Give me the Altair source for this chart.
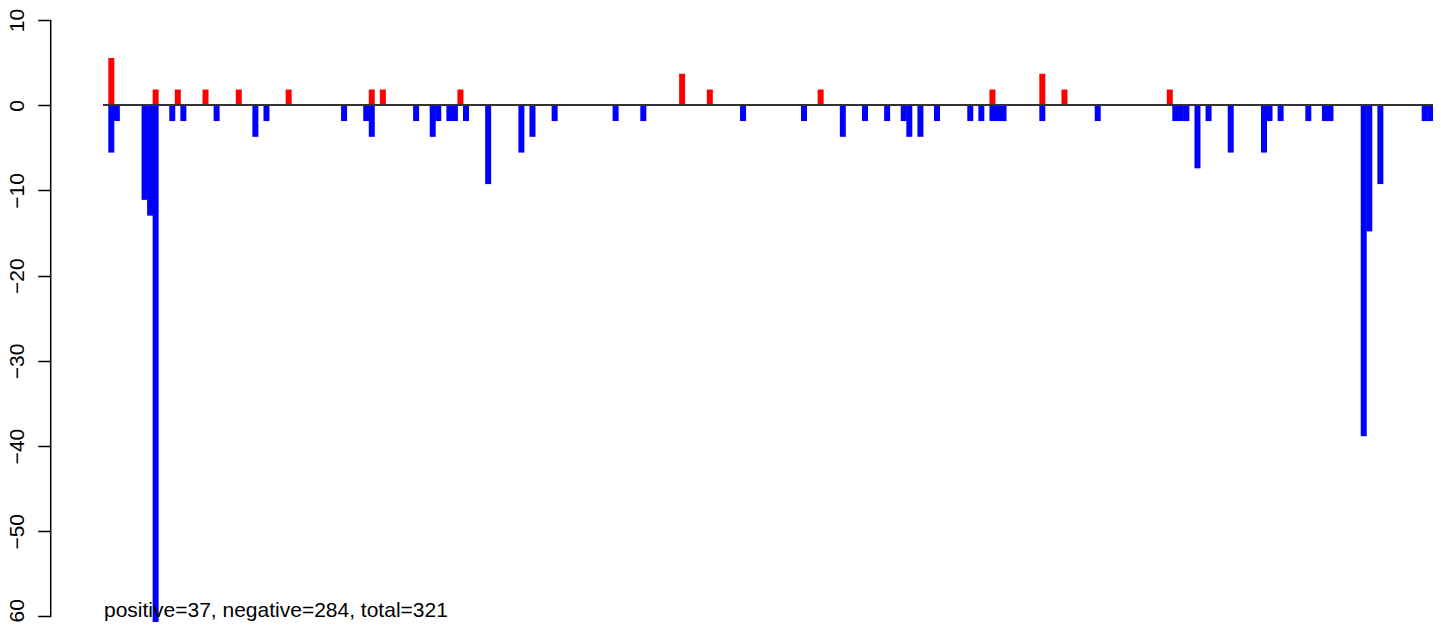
import altair as alt
import pandas as pd

# slot positions (0..239) and values
pos_index = [1, 9, 13, 18, 24, 33, 48, 50, 64, 104, 109, 129, 160, 169, 173, 192]
pos_value = [5.55, 1.85, 1.85, 1.85, 1.85, 1.85, 1.85, 1.85, 1.85, 3.7, 1.85, 1.85, 1.85, 3.7, 1.85, 1.85]

neg_index = [1, 2, 7, 8, 9, 12, 14, 20, 27, 29, 43, 47, 48, 56, 59, 60, 62, 63, 65, 69,
             75, 77, 81, 92, 97, 115, 126, 133, 137, 141, 144, 145, 147, 150, 156, 158,
             160, 161, 162, 169, 179, 193, 194, 195, 197, 199, 203, 209, 210, 212, 217,
             220, 221, 227, 228, 230, 238, 239]
neg_value = [-5.55, -1.85, -11.1, -12.95, -61.05, -1.85, -1.85, -1.85, -3.7, -1.85, -1.85, -1.85, -3.7,
             -1.85, -3.7, -1.85, -1.85, -1.85, -1.85, -9.25,
             -5.55, -3.7, -1.85, -1.85, -1.85, -1.85, -1.85, -3.7, -1.85, -1.85, -1.85, -3.7, -3.7,
             -1.85, -1.85, -1.85,
             -1.85, -1.85, -1.85, -1.85, -1.85, -1.85, -1.85, -1.85, -7.4, -1.85, -5.55, -5.55,
             -1.85, -1.85, -1.85,
             -1.85, -1.85, -38.85, -14.8, -9.25, -1.85, -1.85]

y_ticks = [-60, -50, -40, -30, -20, -10, 0, 10]
annotation = "positive=37, negative=284, total=321"

df = pd.DataFrame({
    "slot": pos_index + neg_index,
    "value": pos_value + neg_value,
    "sign": ["positive"] * len(pos_index) + ["negative"] * len(neg_index),
})

xscale = alt.Scale(domain=[-0.5, 239.5], nice=False, zero=False, padding=0)
yscale = alt.Scale(domain=[-60.65, 11.42], nice=False, zero=False, padding=0)

FONT = "Liberation Sans"

bars = alt.Chart(df).mark_bar(size=6, clip=True).encode(
    x=alt.X("slot:Q", scale=xscale, axis=None),
    y=alt.Y(
        "value:Q",
        scale=yscale,
        stack=None,
        axis=alt.Axis(
            values=y_ticks, orient="left", offset=52.3, domain=False, grid=False,
            tickSize=13, tickColor="black", tickWidth=1.5,
            labelAngle=270, labelAlign="center", labelBaseline="alphabetic",
            labelPadding=14.2, labelFontSize=21, labelFont=FONT, labelColor="black",
            labelFlush=False, labelOverlap=False, title=None, format="d",
        ),
    ),
    y2=alt.datum(0),
    color=alt.Color("sign:N", scale=alt.Scale(domain=["positive", "negative"],
                                              range=["#ff0000", "#0000ff"]), legend=None),
)

zero_line = alt.Chart(df).mark_rule(color="#333333", strokeWidth=1).encode(
    y=alt.datum(0)
)

axis_df = pd.DataFrame({"top": [max(y_ticks)], "bottom": [min(y_ticks)]})
axis_line = alt.Chart(axis_df).mark_rule(color="black", strokeWidth=1.5).encode(
    x=alt.value(-52.3),
    y=alt.Y("top:Q", scale=yscale),
    y2="bottom:Q",
)

note = alt.Chart(pd.DataFrame({"label": [annotation]})).mark_text(
    align="left", baseline="alphabetic", fontSize=21, font=FONT, color="black"
).encode(
    text="label:N",
    x=alt.value(1),
    y=alt.value(609),
)

chart = alt.layer(bars, zero_line, axis_line, note).properties(
    width=1330,
    height=614,
    autosize=alt.AutoSizeParams(type="none"),
    padding={"left": 95, "top": 0, "right": 0, "bottom": 0},
    background="white",
).configure_view(stroke=None)

chart.save("out.html", embed_options={"renderer": "svg", "actions": False})
